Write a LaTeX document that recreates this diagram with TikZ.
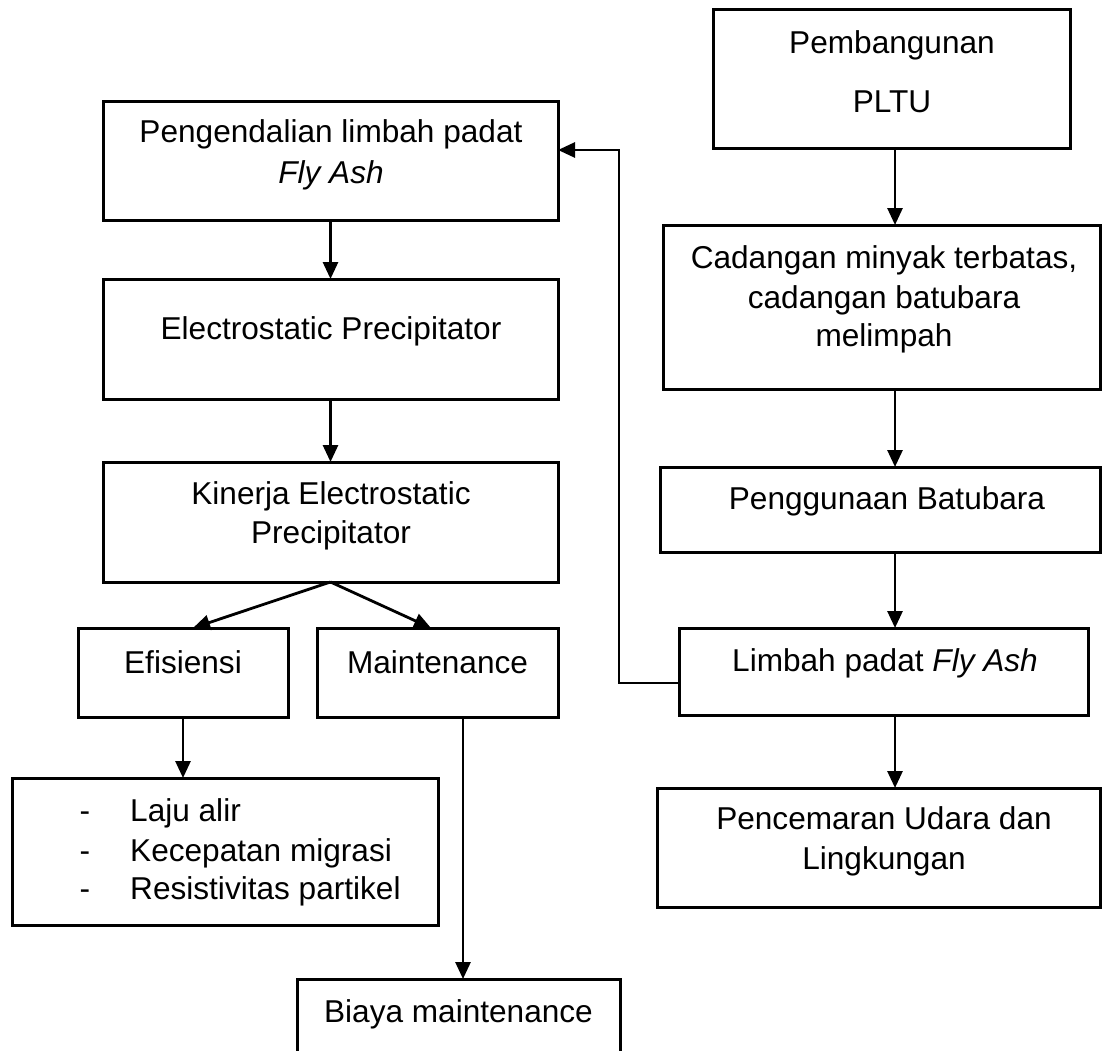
\documentclass[tikz,border=0pt]{standalone}
\usepackage{fontspec}
\setmainfont{Liberation Sans}
\usetikzlibrary{arrows.meta,calc}
\tikzset{
  box/.style={draw=black, line width=3pt, rectangle, inner sep=0pt, outer sep=0pt, fill=none},
  lbl/.style={inner sep=0pt, anchor=base, font=\fontsize{31.6pt}{39.5pt}\selectfont},
  lbll/.style={inner sep=0pt, anchor=base west, font=\fontsize{31.6pt}{39.5pt}\selectfont},
  conn/.style={line width=2.8pt, draw=black},
  arr/.style={conn, -{Triangle[length=17pt,width=15pt]}}
}
\begin{document}
\begin{tikzpicture}[x=1pt,y=-1pt]
\useasboundingbox (0,0) rectangle (1102,1051);
\fill[white] (0,0) rectangle (1102,1051);
% boxes
\node[box, minimum width=357pt, minimum height=139pt] (pltu) at (891.5,79.5) {};
\node[box, minimum width=455pt, minimum height=118pt] (peng) at (330.5,161) {};
\node[box, minimum width=455pt, minimum height=120pt] (esp) at (330.5,339) {};
\node[box, minimum width=455pt, minimum height=120pt] (kin) at (330.5,522) {};
\node[box, minimum width=210pt, minimum height=89pt] (efi) at (183,672.5) {};
\node[box, minimum width=241pt, minimum height=89pt] (mnt) at (437.5,672.5) {};
\node[box, minimum width=426pt, minimum height=147pt] (lst) at (225,851.5) {};
\node[box, minimum width=323pt, minimum height=121pt] (bia) at (458.5,1039.5) {};
\node[box, minimum width=437pt, minimum height=164pt] (cad) at (881.5,307) {};
\node[box, minimum width=440pt, minimum height=85pt] (pgb) at (880,509.5) {};
\node[box, minimum width=409pt, minimum height=87pt] (lim) at (883.5,671.5) {};
\node[box, minimum width=443pt, minimum height=119pt] (pnc) at (878.5,847.5) {};
% texts
\node[lbl] (t1a) at (892,54) {Pembangunan};
\node[lbl] (t1b) at (892,113) {PLTU};
\node[lbl] (t2a) at (331,143) {Pengendalian limbah padat};
\node[lbl] (t2b) at (331,183) {\itshape Fly Ash};
\node[lbl] (t3) at (331,339) {Electrostatic Precipitator};
\node[lbl] (t4a) at (331,504) {Kinerja Electrostatic};
\node[lbl] (t4b) at (331,543) {Precipitator};
\node[lbl] (t5) at (183,673) {Efisiensi};
\node[lbl] (t6) at (437.5,673) {Maintenance};
\node[lbl] (d1) at (85,821) {-};
\node[lbl] (d2) at (85,861) {-};
\node[lbl] (d3) at (85,899) {-};
\node[lbll] (l1) at (130,821) {Laju alir};
\node[lbll] (l2) at (130,861) {Kecepatan migrasi};
\node[lbll] (l3) at (130,899) {Resistivitas partikel};
\node[lbl] (t8) at (458.5,1022) {Biaya maintenance};
\node[lbl] (t9a) at (884,268) {Cadangan minyak terbatas,};
\node[lbl] (t9b) at (884,308) {cadangan batubara};
\node[lbl] (t9c) at (884,346) {melimpah};
\node[lbl] (t10) at (887,509) {Penggunaan Batubara};
\node[lbl] (t11) at (885,671) {Limbah padat \textit{Fly Ash}};
\node[lbl] (t12a) at (884,829) {Pencemaran Udara dan};
\node[lbl] (t12b) at (884,869) {Lingkungan};
% helper coordinates
\coordinate (ax) at (895,0);
\coordinate (mx) at (463,0);
\coordinate (e1) at (193,628);
\coordinate (m1) at (431,628);
\coordinate (fb) at (619,150);
% connectors
\draw[arr] (pltu.south -| ax) -- (cad.north -| ax);
\draw[arr] (cad.south -| ax) -- (pgb.north -| ax);
\draw[arr] (pgb.south -| ax) -- (lim.north -| ax);
\draw[arr] (lim.south -| ax) -- (pnc.north -| ax);
\draw[arr] ($(lim.west)+(0,11.5)$) -| (fb) -- (fb -| peng.east);
\draw[arr] (peng.south) -- (esp.north);
\draw[arr] (esp.south) -- (kin.north);
\draw[arr] (kin.south) -- (e1);
\draw[arr] (kin.south) -- (m1);
\draw[arr] (efi.south) -- (lst.north -| efi.south);
\draw[arr] (mnt.south -| mx) -- (bia.north -| mx);
\end{tikzpicture}
\end{document}
